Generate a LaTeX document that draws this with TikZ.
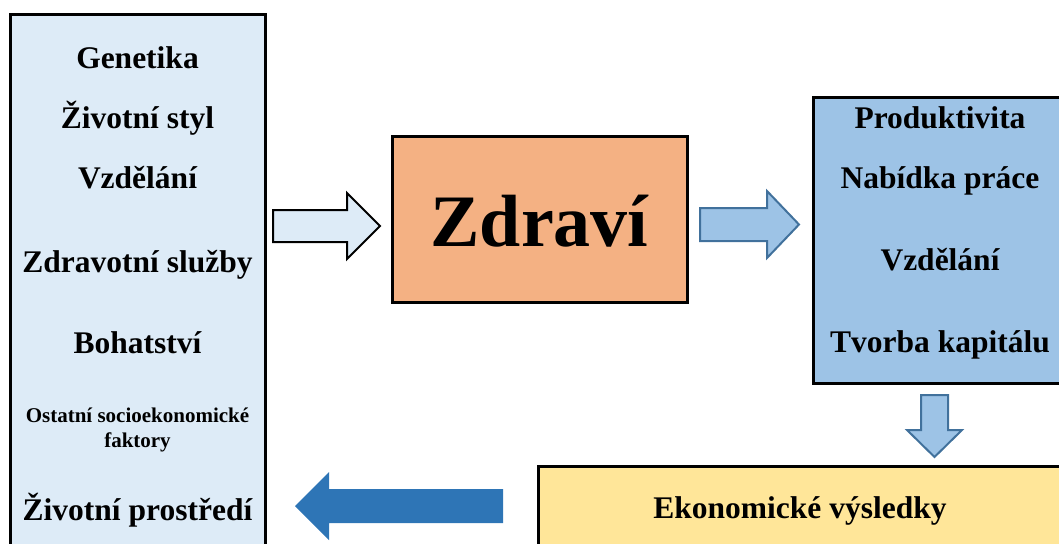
\documentclass[tikz,border=0pt]{standalone}
\usepackage{fontspec}
\setmainfont{Liberation Serif}
\definecolor{lbox}{HTML}{DDEBF7}
\definecolor{obox}{HTML}{F4B183}
\definecolor{bbox}{HTML}{9DC3E6}
\definecolor{ybox}{HTML}{FFE699}
\definecolor{arrline}{HTML}{41719C}
\definecolor{darrow}{HTML}{2E75B6}
\tikzset{
  panel/.style={draw=black, line width=3pt},
  lbl/.style={font=\bfseries\fontsize{31.5}{36}\selectfont, inner sep=0pt, anchor=base},
  smalllbl/.style={font=\bfseries\fontsize{21}{25}\selectfont, inner sep=0pt, anchor=base, align=center},
  bigarrow/.style={line width=2pt, line join=miter},
}
\begin{document}
\begin{tikzpicture}[x=1pt,y=-1pt]
\useasboundingbox (0,0) rectangle (1059,543);
\clip (0,0) rectangle (1059,543);
% boxes
\draw[panel, fill=lbox] (10,15) rectangle (265,570);
\draw[panel, fill=obox] (392,136) rectangle (687,302);
\draw[panel, fill=bbox] (813,97) rectangle (1070,383);
\draw[panel, fill=ybox] (538,466) rectangle (1070,570);
% left texts
\node[lbl] (gen) at (137.5,68) {Genetika};
\node[lbl] (styl) at (137.5,128) {Životní styl};
\node[lbl] (vzd1) at (137.5,188) {Vzdělání};
\node[lbl] (zdsl) at (137.5,272) {Zdravotní služby};
\node[lbl] (boh) at (137.5,353) {Bohatství};
\node[smalllbl] (ost) at (137.5,447) {Ostatní socioekonomické\\faktory};
\node[lbl] (zivp) at (137.5,520) {Životní prostředí};
% centre
\node[font=\bfseries\fontsize{74}{80}\selectfont, inner sep=0pt, anchor=base] (zdr) at (539.5,246) {Zdraví};
% right texts
\node[lbl] (prod) at (940,128) {Produktivita};
\node[lbl] (nab) at (940,188) {Nabídka práce};
\node[lbl] (vzd2) at (940,270) {Vzdělání};
\node[lbl] (tvor) at (940,352) {Tvorba kapitálu};
% bottom
\node[lbl] (eko) at (800,518) {Ekonomické výsledky};
% block arrows
\draw[bigarrow, draw=black, fill=lbox] (273,210) -- (347,210) -- (347,193) -- (380,226) -- (347,259) -- (347,242) -- (273,242) -- cycle;
\draw[bigarrow, draw=arrline, fill=bbox] (700,208) -- (767,208) -- (767,191) -- (799,224.5) -- (767,258) -- (767,241) -- (700,241) -- cycle;
\draw[bigarrow, draw=arrline, fill=bbox] (921,395) -- (948,395) -- (948,430) -- (962,430) -- (934.5,457) -- (907,430) -- (921,430) -- cycle;
\fill[darrow] (503,489) -- (329,489) -- (329,472) -- (295,506) -- (329,540) -- (329,523) -- (503,523) -- cycle;
\end{tikzpicture}
\end{document}
